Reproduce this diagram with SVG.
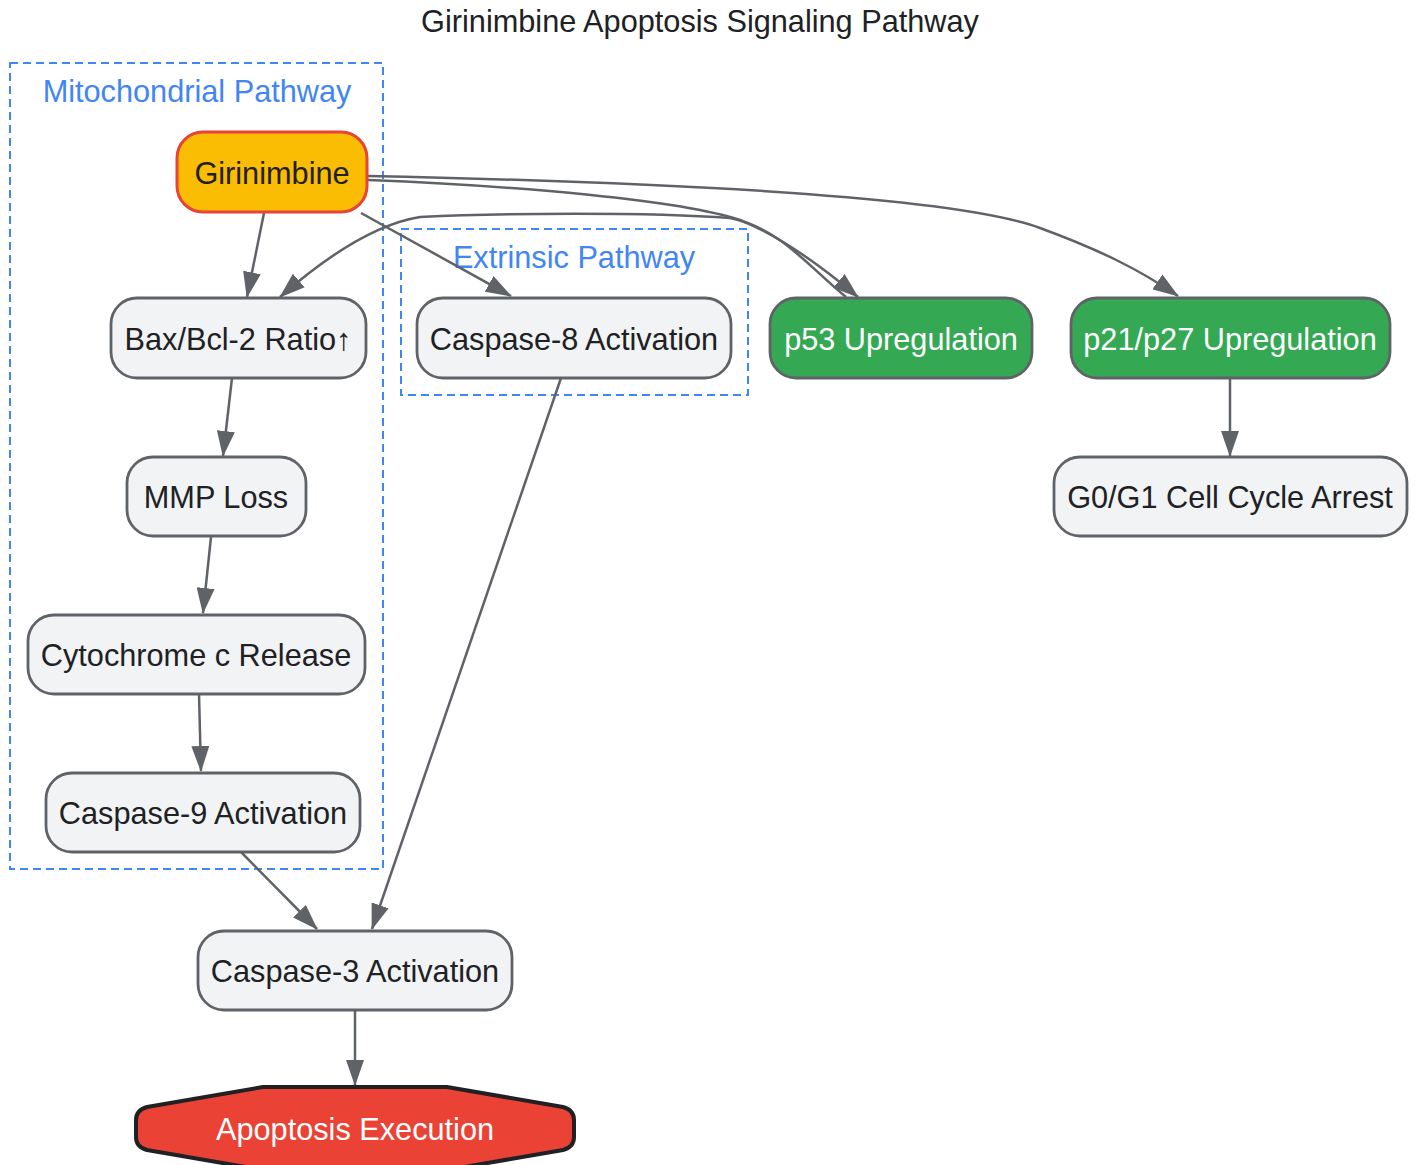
<svg xmlns="http://www.w3.org/2000/svg" width="1418" height="1165" viewBox="0 0 1418 1165">
<defs>
<style>
text{font-family:"Liberation Sans",Arial,sans-serif;font-size:30.7px;fill:#202124;text-anchor:middle;dominant-baseline:central}
.node rect{fill:#f1f3f4;stroke:#5f6368;stroke-width:2.8}
.green rect{fill:#34a853}
.green text,.white{fill:#ffffff}
.cluster rect{fill:none;stroke:#4285f4;stroke-width:2;stroke-dasharray:8 5}
.cluster text{fill:#4285f4}
.edges path{fill:none;stroke:#5f6368;stroke-width:2.5;marker-end:url(#arr)}
</style>
<marker id="arr" viewBox="0 0 26 18" refX="25" refY="9" markerWidth="26" markerHeight="18" markerUnits="userSpaceOnUse" orient="auto">
<path d="M0,0 L26,9 L0,18 z" fill="#5f6368"/>
</marker>
</defs>
<rect width="1418" height="1165" fill="#ffffff"/>
<text x="700" y="21">Girinimbine Apoptosis Signaling Pathway</text>

<g id="cluster-mito" class="cluster">
<rect x="10" y="63" width="373" height="806"/>
<text x="197" y="91">Mitochondrial Pathway</text>
</g>
<g id="cluster-ext" class="cluster">
<rect x="401" y="229" width="347" height="166"/>
<text x="574" y="257">Extrinsic Pathway</text>
</g>

<g id="edges" class="edges">
<path d="M264,213 L247,297"/>
<path d="M361,213 L511,296"/>
<path d="M232,378 L223,456"/>
<path d="M211,537 L203,613"/>
<path d="M199,694 L201,771"/>
<path d="M241,852 L317,929"/>
<path d="M561,378 L372,929"/>
<path d="M355,1010 L355,1085"/>
<path d="M1230,378 L1230,456"/>
<path d="M368,180 C520,186 680,200 740,220 C780,236 820,265 858,297"/>
<path d="M368,176 C700,183 960,198 1040,228 C1100,250 1140,270 1178,296"/>
<path d="M846,297 C810,268 780,228 730,218 C650,212 500,213 420,217 C370,225 320,262 280,297"/>
</g>

<g id="n-girinimbine" class="node">
<rect x="177" y="132" width="190" height="80" rx="26" style="fill:#fbbc04;stroke:#ea4335;stroke-width:3"/>
<text x="272" y="173">Girinimbine</text>
</g>
<g id="n-bax" class="node">
<rect x="111" y="298" width="255" height="80" rx="26"/>
<text x="238" y="339">Bax/Bcl-2 Ratio↑</text>
</g>
<g id="n-casp8" class="node">
<rect x="417" y="298" width="314" height="80" rx="26"/>
<text x="574" y="339">Caspase-8 Activation</text>
</g>
<g id="n-p53" class="node green">
<rect x="770" y="298" width="262" height="80" rx="26"/>
<text x="901" y="339">p53 Upregulation</text>
</g>
<g id="n-p21" class="node green">
<rect x="1071" y="298" width="319" height="80" rx="26"/>
<text x="1230" y="339">p21/p27 Upregulation</text>
</g>
<g id="n-mmp" class="node">
<rect x="127" y="457" width="179" height="79" rx="26"/>
<text x="216" y="497">MMP Loss</text>
</g>
<g id="n-g0g1" class="node">
<rect x="1054" y="457" width="353" height="79" rx="26"/>
<text x="1230" y="497">G0/G1 Cell Cycle Arrest</text>
</g>
<g id="n-cytc" class="node">
<rect x="28" y="615" width="337" height="79" rx="26"/>
<text x="196" y="655">Cytochrome c Release</text>
</g>
<g id="n-casp9" class="node">
<rect x="46" y="773" width="314" height="79" rx="26"/>
<text x="203" y="813">Caspase-9 Activation</text>
</g>
<g id="n-casp3" class="node">
<rect x="198" y="931" width="314" height="79" rx="26"/>
<text x="355" y="971">Caspase-3 Activation</text>
</g>
<g id="n-apoptosis">
<path d="M263,1087 L447,1087 L563,1107 Q574,1110 574,1120 L574,1137 Q574,1147 563,1150 L447,1170 L263,1170 L147,1150 Q136,1147 136,1137 L136,1120 Q136,1110 147,1107 Z" fill="#ea4335" stroke="#202124" stroke-width="4" stroke-linejoin="round"/>
<text x="355" y="1129" class="white">Apoptosis Execution</text>
</g>
</svg>
